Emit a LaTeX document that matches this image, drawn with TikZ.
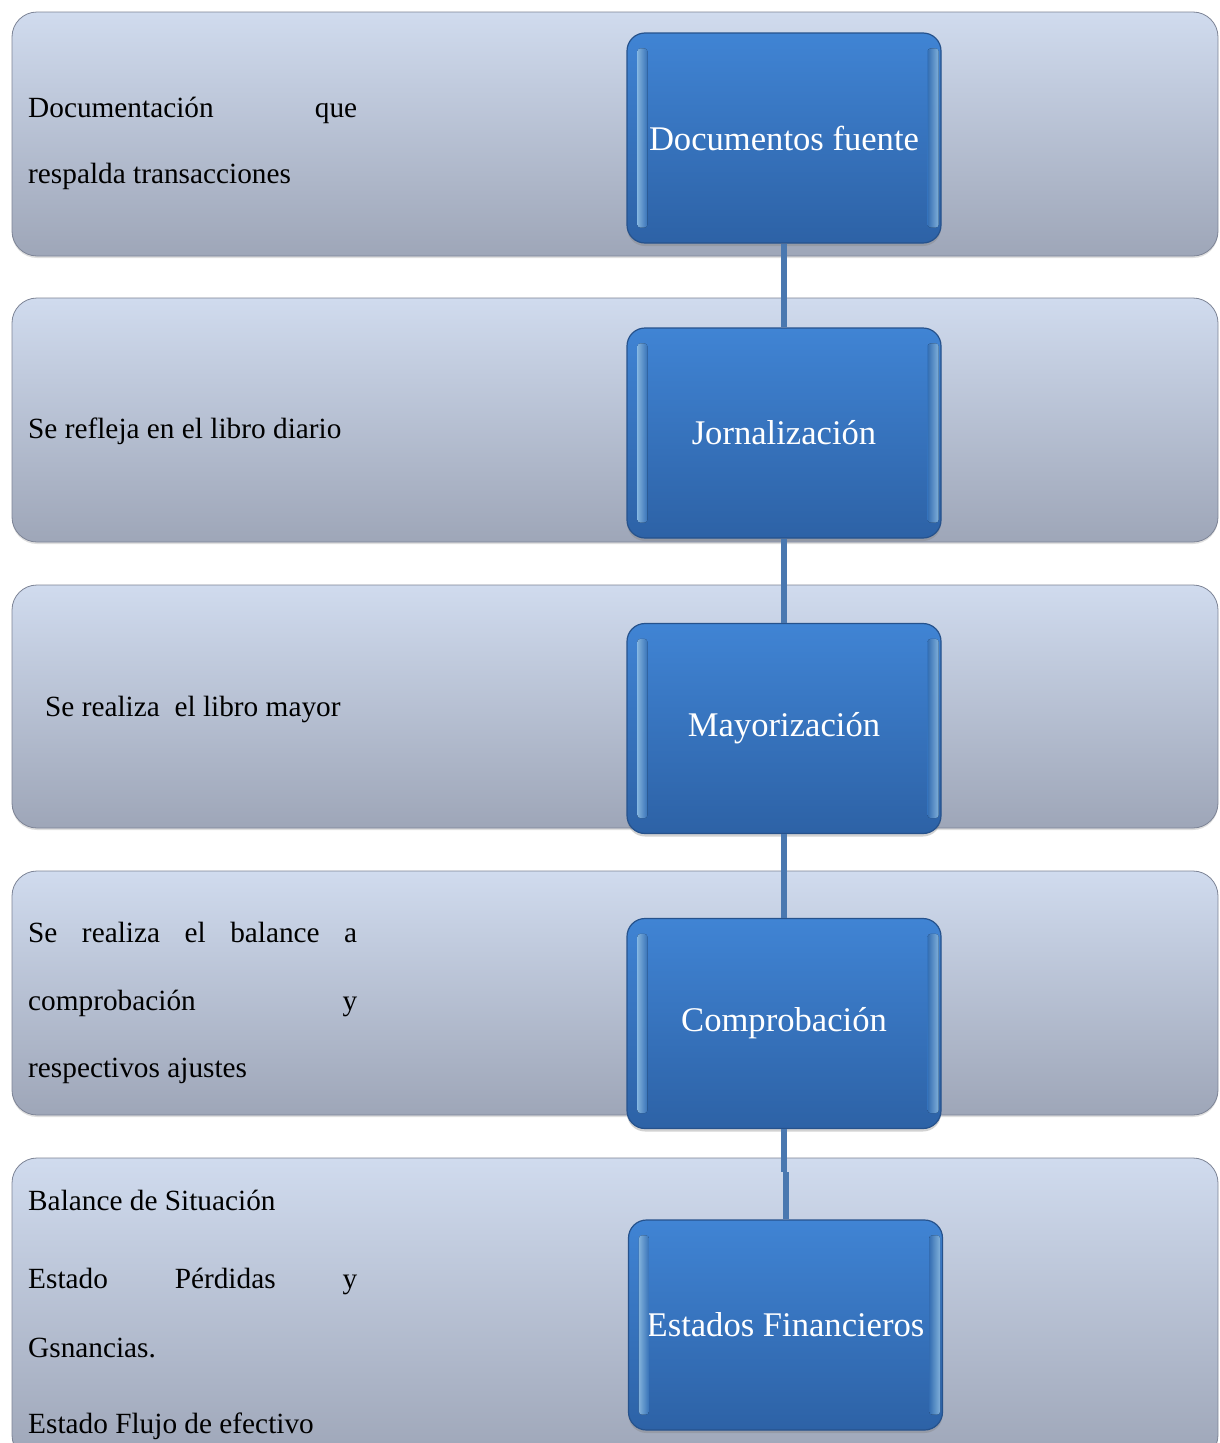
\documentclass[tikz,border=0pt]{standalone}
\usepackage{fontspec}
\setmainfont{Liberation Serif}
\usetikzlibrary{calc,shadows}

\definecolor{bandtop}{RGB}{208,219,238}
\definecolor{bandbot}{RGB}{158,166,184}
\definecolor{bandedge}{RGB}{125,132,150}
\definecolor{steptop}{RGB}{64,132,212}
\definecolor{stepbot}{RGB}{45,98,166}
\definecolor{stepedge}{RGB}{38,82,140}
\definecolor{bevel}{RGB}{150,205,252}
\definecolor{linkblue}{RGB}{74,120,176}

\tikzset{
  band/.style={rectangle, rounded corners=25pt, minimum width=1206pt,
    top color=bandtop, bottom color=bandbot, draw=bandedge, line width=0.8pt,
    inner sep=0pt, drop shadow={opacity=0.25, shadow xshift=0pt, shadow yshift=-2pt}},
  stepbox/.style={rectangle, rounded corners=18pt, minimum width=314pt, minimum height=210pt,
    top color=steptop, bottom color=stepbot, draw=stepedge, line width=1.2pt,
    text=white, font=\fontsize{34.6}{40}\selectfont, inner sep=0pt,
    drop shadow={opacity=0.35, shadow xshift=0pt, shadow yshift=-3pt}},
  note/.style={anchor=base west, inner sep=0pt, font=\fontsize{29.3}{34}\selectfont, text=black},
  link/.style={draw=linkblue, line width=6pt},
}

\begin{document}
\begin{tikzpicture}[x=1pt, y=-1pt]
  \useasboundingbox (0,0) rectangle (1219,1443);
  \clip (0,0) rectangle (1219,1443);
  \fill[white] (0,0) rectangle (1219,1443);

  % background bands
  \node[band, minimum height=244pt] (r1) at (615,134) {};
  \node[band, minimum height=244pt] (r2) at (615,420) {};
  \node[band, minimum height=243pt] (r3) at (615,706.5) {};
  \node[band, minimum height=244pt] (r4) at (615,993) {};
  \node[band, minimum height=302pt] (r5) at (615,1309) {};

  % descriptions
  \node[note] (t1a) at (28,117) {\makebox[329pt][l]{Documentación\hfill que}};
  \node[note] (t1b) at (28,183) {respalda transacciones};
  \node[note] (t2) at (28,438) {Se refleja en el libro diario};
  \node[note] (t3) at (45,716) {Se realiza\ \ el libro mayor};
  \node[note] (t4a) at (28,942) {\makebox[329pt][l]{Se\hfill realiza\hfill el\hfill balance\hfill a}};
  \node[note] (t4b) at (28,1010) {\makebox[329pt][l]{comprobación\hfill y}};
  \node[note] (t4c) at (28,1077) {respectivos ajustes};
  \node[note] (t5a) at (28,1210) {Balance de Situación};
  \node[note] (t5b) at (28,1288) {\makebox[329pt][l]{Estado\hfill Pérdidas\hfill y}};
  \node[note] (t5c) at (28,1357) {Gsnancias.};
  \node[note] (t5d) at (28,1433) {Estado Flujo de efectivo};

  % process steps
  \node[stepbox] (b1) at (784,138) {Documentos fuente};
  \node[stepbox] (b2) at (784,433) {Jornalización};
  \node[stepbox] (b3) at (784,728.5) {Mayorización};
  \node[stepbox] (b4) at (784,1023.5) {Comprobación};
  \node[stepbox] (b5) at (785.5,1325) {Estados Financieros};

  % soft bevel highlights on the step boxes
  \foreach \b in {b1,b2,b3,b4,b5} {
    \fill[left color=bevel, right color=steptop, fill opacity=0.85, rounded corners=3pt]
      ($(\b.north west)+(11,16)$) rectangle ($(\b.south west)+(21,-16)$);
    \fill[left color=steptop!85!stepbot, right color=bevel, fill opacity=0.85, rounded corners=3pt]
      ($(\b.north east)+(-14,16)$) rectangle ($(\b.south east)+(-3,-16)$);
  }

  % connectors
  \draw[link] (b1.south) -- (b2.north);
  \draw[link] (b2.south) -- (b3.north);
  \draw[link] (b3.south) -- (b4.north);
  \coordinate (jog) at (784,1172);
  \draw[link] (b4.south) -- (jog);
  \draw[link] (jog -| b5.north) -- (b5.north);
\end{tikzpicture}
\end{document}
